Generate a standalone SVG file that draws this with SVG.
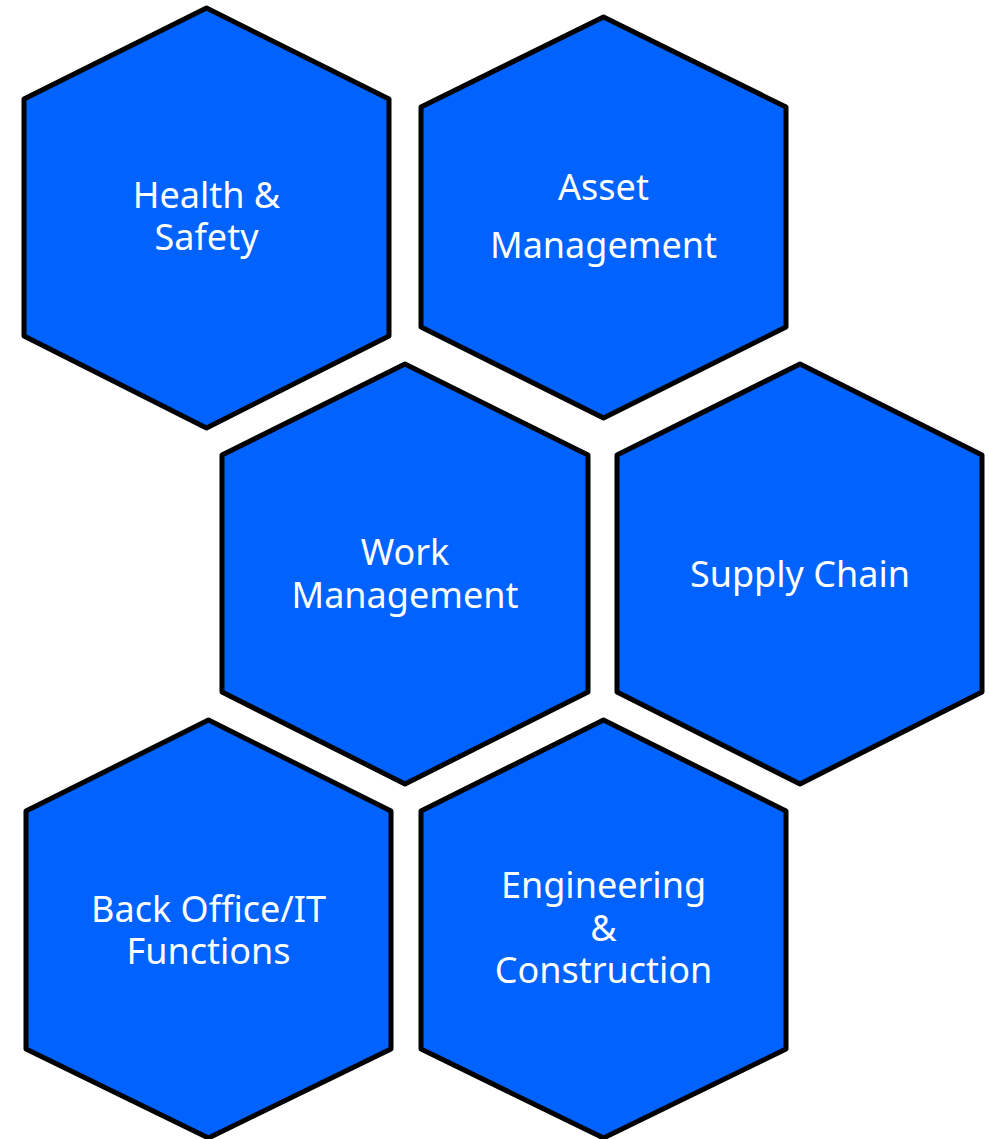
<svg xmlns="http://www.w3.org/2000/svg" width="989" height="1139" viewBox="0 0 989 1139">
<style>
.hex{fill:#0062ff;stroke:#000;stroke-width:5;stroke-linejoin:round}
.lbl{fill:#fff;font-family:"Noto Sans","Liberation Sans",sans-serif;font-size:36px;text-anchor:middle}
</style>
<rect width="989" height="1139" fill="#fff"/>
<g id="connectors"></g>
<g id="health-safety">
<polygon class="hex" points="206.5,8 389,99 389,336 206.5,428 24,336 24,99"/>
<text class="lbl" x="206.5" y="208">Health &amp;</text>
<text class="lbl" x="206.5" y="250">Safety</text>
</g>
<g id="asset-management">
<polygon class="hex" points="603.5,17 786,107 786,327 603.5,418 421,327 421,107"/>
<text class="lbl" x="603.5" y="200">Asset</text>
<text class="lbl" x="603.5" y="258">Management</text>
</g>
<g id="work-management">
<polygon class="hex" points="405,364 588,455 588,692 405,784 222,692 222,455"/>
<text class="lbl" x="405" y="565">Work</text>
<text class="lbl" x="405" y="608">Management</text>
</g>
<g id="supply-chain">
<polygon class="hex" points="800,364 982,455 982,692 800,784 617,692 617,455"/>
<text class="lbl" x="800" y="587">Supply Chain</text>
</g>
<g id="back-office">
<polygon class="hex" points="208.5,720 391,811 391,1049 208.5,1138 26,1049 26,811"/>
<text class="lbl" x="208.5" y="922">Back Office/IT</text>
<text class="lbl" x="208.5" y="964">Functions</text>
</g>
<g id="engineering-construction">
<polygon class="hex" points="603.5,720 786,811 786,1049 603.5,1138 421,1049 421,811"/>
<text class="lbl" x="603.5" y="898">Engineering</text>
<text class="lbl" x="603.5" y="941">&amp;</text>
<text class="lbl" x="603.5" y="983">Construction</text>
</g>
</svg>
